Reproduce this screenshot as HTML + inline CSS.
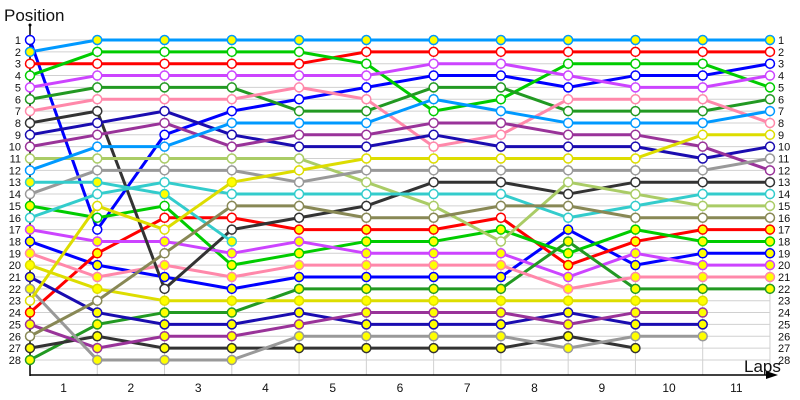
<!DOCTYPE html>
<html><head><meta charset="utf-8"><style>
html,body{margin:0;padding:0;background:#fff;width:800px;height:400px;overflow:hidden}
svg{display:block;font-family:"Liberation Sans","DejaVu Sans",sans-serif}
</style></head><body>
<svg id="c" width="800" height="400" xmlns="http://www.w3.org/2000/svg"></svg>
<script>
const NS="http://www.w3.org/2000/svg";
const svg=document.getElementById('c');
function el(t,a,txt){const e=document.createElementNS(NS,t);for(const k in a)e.setAttribute(k,a[k]);if(txt!==undefined)e.textContent=txt;svg.appendChild(e);return e;}
const X=i=>30+67.27*i, Y=r=>40+(r-1)*11.85;
// grid
for(let r=1;r<=28;r++){el('line',{x1:30,y1:Y(r),x2:770,y2:Y(r),stroke:'#d0d0d0','stroke-width':1});}
for(let i=1;i<=11;i++){el('line',{x1:X(i),y1:Y(1),x2:X(i),y2:375,stroke:'#d0d0d0','stroke-width':1});}
// axes
el('line',{x1:30,y1:25,x2:30,y2:376,stroke:'#000','stroke-width':1.5});
el('circle',{cx:30,cy:25,r:1.5,fill:'#000'});
for(let r=1;r<=28;r++)el('line',{x1:28,y1:Y(r),x2:32,y2:Y(r),stroke:'#000','stroke-width':1});
el('line',{x1:30,y1:375,x2:775,y2:375,stroke:'#000','stroke-width':1.5});
el('polygon',{points:'778,375 766,371 766,379',fill:'#000'});
el('text',{x:4,y:21,'font-size':17,fill:'#111'},'Position');
el('text',{x:744,y:372,'font-size':17,fill:'#111'},'Laps');
for(let r=1;r<=28;r++){
 el('text',{x:21,y:Y(r)+4,'font-size':11,'text-anchor':'end',fill:'#111'},r);
 el('text',{x:778,y:Y(r)+4,'font-size':11,fill:'#111'},r);
}
for(let i=1;i<=11;i++)el('text',{x:(X(i-1)+X(i))/2,y:392,'font-size':12,'text-anchor':'middle',fill:'#111'},i);
const S=[
['#0099ff',[2,1,1,1,1,1,1,1,1,1,1,1],'lb1'],
['#0000ff',[1,17,9,7,6,5,4,4,5,4,4,3]],
['#0000ff',[18,20,21,22,21,21,21,21,17,20,19,19]],
['#ff0000',[3,3,3,3,3,2,2,2,2,2,2,2]],
['#ff0000',[24,19,16,16,17,17,17,16,20,18,17,17]],
['#00cc00',[4,2,2,2,2,3,7,6,3,3,3,5]],
['#00cc00',[15,16,15,20,19,18,18,17,19,17,18,18]],
['#cc44ff',[5,4,4,4,4,4,3,3,4,5,5,4]],
['#cc44ff',[17,18,18,19,18,19,19,19,21,19,20,20]],
['#229922',[6,5,5,5,7,7,5,5,7,7,7,6]],
['#229922',[28,25,24,24,22,22,22,22,18,22,22,22]],
['#ff88aa',[7,6,6,6,5,6,10,9,6,6,6,8]],
['#ff88aa',[19,21,20,21,20,20,20,20,22,21,21,21]],
['#333333',[8,7,22,17,16,15,13,13,14,13,13,13],'dark'],
['#333333',[27,26,27,27,27,27,27,27,26,27]],
['#1a0cb0',[9,8,7,9,10,10,9,10,10,10,11,10]],
['#1a0cb0',[21,24,25,25,24,25,25,25,24,25,25]],
['#993399',[10,9,8,10,9,9,8,8,9,9,10,12]],
['#993399',[25,27,26,26,25,24,24,24,25,24,24]],
['#aacc66',[11,11,11,11,11,13,15,18,13,14,15,15],'lg'],
['#0099ff',[12,10,10,8,8,8,6,7,8,8,8,7]],
['#999999',[14,12,12,12,13,12,12,12,12,12,12,11]],
['#999999',[22,28,28,28,26,26,26,26,27,26,26]],
['#33cccc',[13,13,14,18],'cy1'],
['#33cccc',[16,14,13,14,14,14,14,14,16,15,14,14]],
['#dddd00',[23,15,17,13,12,11,11,11,11,11,9,9],'yel'],
['#dddd00',[20,22,23,23,23,23,23,23,23,23,23]],
['#888855',[26,23,19,15,15,16,16,15,15,16,16,16],'ol']
];
S.forEach(s=>{el('polyline',{points:s[1].map((r,i)=>X(i)+','+Y(r)).join(' '),fill:'none',stroke:s[0],'stroke-width':3,'stroke-linejoin':'round'});});
function fillOf(s,i,r){
 const t=s[2];
 if(t==='lb1')return '#ffff00';
 if(t==='cy1')return '#ffff00';
 if(t==='ol'&&i<=3)return '#fff';
 if(t==='yel'){if(i===0||i===1||i===2||i===4)return '#fff';if(i===3)return '#ffff00';}
 if(t==='dark'&&(i===2||i===3))return '#fff';
 if(t==='lg'&&i===7)return '#fff';
 if(i===1&&r===17)return '#fff';
 if(i===0&&(r===13||r===15))return '#ffff00';
 return r>=17?'#ffff00':'#fff';
}
S.forEach(s=>{s[1].forEach((r,i)=>{el('circle',{cx:X(i),cy:Y(r),r:4.5,fill:fillOf(s,i,r),stroke:s[0],'stroke-width':1.5});});});
</script>
</body></html>
